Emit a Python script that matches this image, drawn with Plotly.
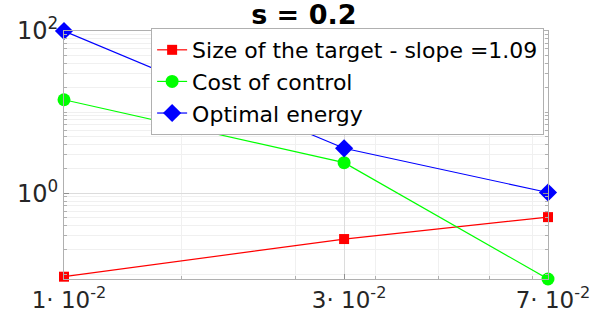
import math
import plotly.graph_objects as go

# step sizes (log scale) and the three measured quantities
h = [0.01314, 0.0357, 0.0739]
h_labels = ["1· 10<sup>-2</sup>", "3· 10<sup>-2</sup>", "7· 10<sup>-2</sup>"]
target_size = [0.0934, 0.272, 0.507]
control_cost = [14.2, 2.38, 0.0875]
optimal_energy = [100.0, 3.58, 1.02]
y_ticks = [1, 100]
y_labels = ["10<sup>0</sup>", "10<sup>2</sup>"]

FONT = "DejaVu Sans"

fig = go.Figure()
fig.add_trace(go.Scatter(x=h, y=target_size, mode="lines+markers",
                         name="Size of the target - slope =1.09",
                         line=dict(color="#ff0000", width=1.2),
                         marker=dict(symbol="square", size=10, color="#ff0000"),
                         cliponaxis=False))
fig.add_trace(go.Scatter(x=h, y=control_cost, mode="lines+markers",
                         name="Cost of control",
                         line=dict(color="#00ff00", width=1.2),
                         marker=dict(symbol="circle", size=13, color="#00ff00"),
                         cliponaxis=False))
fig.add_trace(go.Scatter(x=h, y=optimal_energy, mode="lines+markers",
                         name="Optimal energy",
                         line=dict(color="#0000ff", width=1.2),
                         marker=dict(symbol="diamond", size=14, color="#0000ff"),
                         cliponaxis=False))

minor_grid = dict(dtick="D1", showgrid=True, gridcolor="#f0f0f0",
                  ticks="inside", ticklen=3, tickcolor="#b0b0b0")

axis_common = dict(
    showline=True, linecolor="#b0b0b0", linewidth=1, mirror="ticks",
    ticks="inside", ticklen=5, tickcolor="#909090",
    showgrid=True, gridcolor="#dcdcdc", gridwidth=1,
    zeroline=False,
    minor=minor_grid,
)

fig.update_xaxes(type="log", range=[math.log10(h[0]), math.log10(h[-1])],
                 tickmode="array", tickvals=h, ticktext=h_labels,
                 tickfont=dict(family=FONT, size=23, color="#262626"),
                 ticklabelshift=5,
                 **axis_common)
fig.update_yaxes(type="log",
                 range=[math.log10(min(control_cost)), math.log10(max(optimal_energy))],
                 tickmode="array", tickvals=y_ticks, ticktext=y_labels,
                 tickfont=dict(family=FONT, size=24, color="#262626"),
                 **axis_common)

fig.update_layout(
    width=604, height=328,
    margin=dict(l=64, r=56, t=31, b=49),
    paper_bgcolor="white", plot_bgcolor="white",
    title=dict(text="<b>s = 0.2</b>", x=0.503, xanchor="center", y=0.956,
               yanchor="middle", font=dict(family=FONT, size=27, color="black")),
    legend=dict(x=0.18, y=1.012, xanchor="left", yanchor="top",
                bgcolor="white", bordercolor="#b0b0b0", borderwidth=1,
                font=dict(family=FONT, size=22, color="black"),
                itemwidth=30, tracegroupgap=0),
    showlegend=True,
)

fig.write_html("out.html")
